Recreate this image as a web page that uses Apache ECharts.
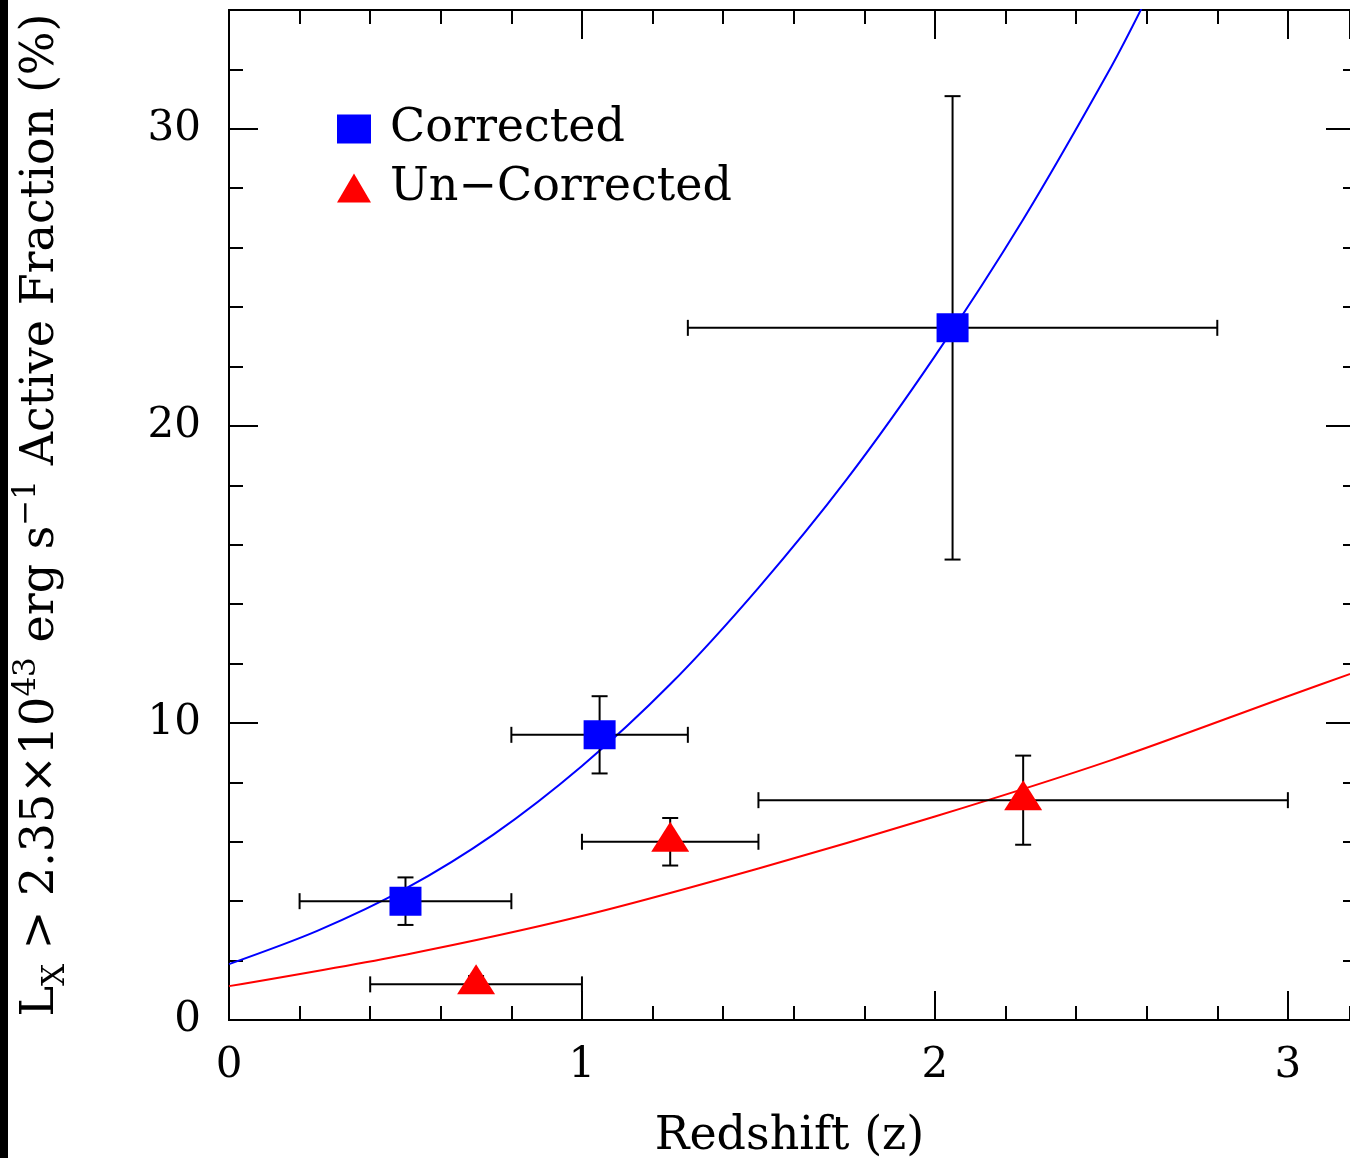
<!DOCTYPE html>
<html>
<head>
<meta charset="utf-8">
<script src="https://cdn.jsdelivr.net/npm/echarts@6/dist/echarts.min.js"></script>
<style>
  html, body { margin: 0; padding: 0; background: #fff; }
  #chart { width: 1350px; height: 1158px; }
</style>
</head>
<body>
<div id="chart"></div>
<script>
// measured points with error ranges
const correctedZ = [0.50, 1.05, 2.05];
const correctedFrac = [4.0, 9.6, 23.3];
const correctedZLo = [0.20, 0.80, 1.30];
const correctedZHi = [0.80, 1.30, 2.80];
const correctedLo = [3.2, 8.3, 15.5];
const correctedHi = [4.8, 10.9, 31.1];

const uncorrectedZ = [0.70, 1.25, 2.25];
const uncorrectedFrac = [1.2, 6.0, 7.4];
const uncorrectedZLo = [0.40, 1.00, 1.50];
const uncorrectedZHi = [1.00, 1.50, 3.00];
const uncorrectedLo = [0.92, 5.2, 5.9];
const uncorrectedHi = [1.48, 6.8, 8.9];

// fitted curves (blue runs out of the top of the frame)
const blueFitZ = [0, 0.25, 0.5, 0.75, 1.0, 1.25, 1.5, 1.75, 2.0, 2.25, 2.5, 2.6];
const blueFitY = [1.88, 3.0, 4.42, 6.25, 8.55, 11.3, 14.55, 18.2, 22.35, 26.95, 32.1, 34.4];
const redFitZ = [0, 0.5, 1.0, 1.5, 2.0, 2.5, 3.0, 3.2];
const redFitY = [1.14, 2.2, 3.5, 5.1, 6.85, 8.75, 10.9, 11.75];

// the frame is cut at the right edge of the picture, a bit short of z = 3.2
const zMax = 3.176;
const fracMax = 34;

const FONT = 'DejaVu Serif';

function pairs(xs, ys) {
  return xs.map((x, i) => [x, ys[i]]);
}
function errRows(z, f, zl, zh, lo, hi) {
  return z.map((x, i) => [x, f[i], zl[i], zh[i], lo[i], hi[i]]);
}

function renderErr(params, api) {
  const x = api.value(0), y = api.value(1);
  const pL = api.coord([api.value(2), y]);
  const pR = api.coord([api.value(3), y]);
  const pB = api.coord([x, api.value(4)]);
  const pT = api.coord([x, api.value(5)]);
  const c = 8;
  const st = { stroke: '#000', lineWidth: 2 };
  const ln = (x1, y1, x2, y2) => ({ type: 'line', shape: { x1, y1, x2, y2 }, style: st });
  return {
    type: 'group',
    children: [
      ln(pL[0], pL[1], pR[0], pR[1]),
      ln(pL[0], pL[1] - c, pL[0], pL[1] + c),
      ln(pR[0], pR[1] - c, pR[0], pR[1] + c),
      ln(pB[0], pB[1], pT[0], pT[1]),
      ln(pB[0] - c, pB[1], pB[0] + c, pB[1]),
      ln(pT[0] - c, pT[1], pT[0] + c, pT[1])
    ]
  };
}

function axLine(show) {
  return { show: show, onZero: false, lineStyle: { color: '#000', width: 2 } };
}

function xAx(pos, interval, len, extra) {
  return Object.assign({
    type: 'value', position: pos, min: 0, max: zMax, interval: interval,
    axisLine: axLine(true),
    axisTick: { inside: true, length: len, lineStyle: { color: '#000', width: 2 } },
    axisLabel: { show: false },
    splitLine: { show: false }
  }, extra || {});
}
function yAx(pos, interval, len, extra) {
  return Object.assign({
    type: 'value', position: pos, min: 0, max: fracMax, interval: interval,
    axisLine: axLine(pos === 'left'),
    axisTick: { inside: true, length: len, lineStyle: { color: '#000', width: 2 } },
    axisLabel: { show: false },
    splitLine: { show: false }
  }, extra || {});
}

const chart = echarts.init(document.getElementById('chart'));
chart.setOption({
  backgroundColor: '#fff',
  animation: false,
  grid: { left: 229, top: 10, right: 0, bottom: 138, outerBoundsMode: 'none' },
  legend: {
    orient: 'vertical',
    left: 332, top: 101,
    itemWidth: 34, itemHeight: 29, itemGap: 13,
    data: ['Corrected', 'Un\u2212Corrected'],
    textStyle: { fontFamily: FONT, fontSize: 46, color: '#000', padding: [0, 0, 0, 14] }
  },
  graphic: [
    { type: 'rect', left: 0, top: 0, shape: { width: 8, height: 1158 }, style: { fill: '#000' } }
  ],
  xAxis: [
    xAx('bottom', 1, 29, {
      name: 'Redshift (z)', nameLocation: 'middle', nameGap: 94,
      nameTextStyle: { fontFamily: FONT, fontSize: 46, color: '#000' },
      axisLabel: { show: true, fontFamily: FONT, fontSize: 42, color: '#000', margin: 25, showMaxLabel: false }
    }),
    xAx('bottom', 0.2, 14),
    xAx('top', 1, 29),
    xAx('top', 0.2, 14)
  ],
  yAxis: [
    yAx('left', 10, 29, {
      name: '{n|L}{sub|X}{n| > 2.35\u00d710}{sup|43}{n| erg s}{sup|\u22121}{n| Active Fraction (%)}',
      nameLocation: 'middle', nameRotate: 90, nameGap: 158,
      nameTextStyle: {
        color: '#000',
        rich: {
          n: { fontFamily: FONT, fontSize: 46, lineHeight: 60, color: '#000' },
          sup: { fontFamily: FONT, fontSize: 31, lineHeight: 31, verticalAlign: 'top', color: '#000' },
          sub: { fontFamily: FONT, fontSize: 31, lineHeight: 31, verticalAlign: 'bottom', color: '#000' }
        }
      },
      axisLabel: { show: true, fontFamily: FONT, fontSize: 42, color: '#000', margin: 28, showMaxLabel: false }
    }),
    yAx('left', 2, 14),
    yAx('right', 10, 24),
    yAx('right', 2, 7)
  ],
  series: [
    {
      type: 'line', name: 'blueFit', data: pairs(blueFitZ, blueFitY),
      smooth: 0.3, showSymbol: false, z: 2, clip: true,
      lineStyle: { color: '#0000ff', width: 2 }
    },
    {
      type: 'line', name: 'redFit', data: pairs(redFitZ, redFitY),
      smooth: 0.3, showSymbol: false, z: 2, clip: true,
      lineStyle: { color: '#ff0000', width: 2 }
    },
    {
      type: 'custom', name: 'corrErr', renderItem: renderErr, z: 3,
      encode: { x: 0, y: 1 },
      data: errRows(correctedZ, correctedFrac, correctedZLo, correctedZHi, correctedLo, correctedHi)
    },
    {
      type: 'custom', name: 'uncorrErr', renderItem: renderErr, z: 3,
      encode: { x: 0, y: 1 },
      data: errRows(uncorrectedZ, uncorrectedFrac, uncorrectedZLo, uncorrectedZHi, uncorrectedLo, uncorrectedHi)
    },
    {
      type: 'scatter', name: 'Corrected', data: pairs(correctedZ, correctedFrac),
      symbol: 'rect', symbolSize: [32, 29], z: 4,
      itemStyle: { color: '#0000ff', opacity: 1 }
    },
    {
      type: 'scatter', name: 'Un\u2212Corrected', data: pairs(uncorrectedZ, uncorrectedFrac),
      symbol: 'triangle', symbolSize: [38, 30], symbolOffset: [0, -5], z: 4,
      itemStyle: { color: '#ff0000', opacity: 1 }
    }
  ]
});
</script>
</body>
</html>
